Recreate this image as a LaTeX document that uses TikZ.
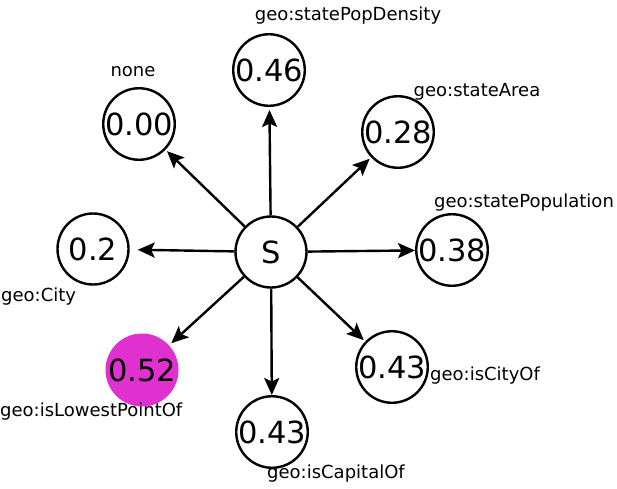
\documentclass[tikz,border=0pt]{standalone}
\usepackage{fontspec}
\setmainfont{DejaVu Sans}
\usetikzlibrary{arrows.meta}
\definecolor{hilite}{RGB}{224,48,208}
\begin{document}
\begin{tikzpicture}[x=1pt,y=-1pt,
  val/.style={circle,draw=black,line width=2.4pt,minimum size=71pt,inner sep=0pt,
    font=\fontsize{30.5}{30.5}\selectfont},
  hot/.style={val,draw=none,fill=hilite,minimum size=73pt},
  lbl/.style={inner sep=0pt,font=\fontsize{18}{18}\selectfont},
  edge/.style={line width=2.4pt,-{Stealth[length=17pt,width=15pt,inset=3.5pt]}}]
\useasboundingbox (0,0) rectangle (617,488);
% centre node
\node[val] (s) at (271,252) {S};
% surrounding value nodes
\node[val] (n46) at (269,70) {0.46};
\node[val] (n00) at (139,124) {0.00};
\node[val] (n28) at (398,132) {0.28};
\node[val] (n2) at (93,249) {0.2};
\node[val] (n38) at (452,250) {0.38};
\node[val] (n43r) at (392,367) {0.43};
\node[val] (n43b) at (272,432) {0.43};
\node[hot] (n52) at (142,370) {0.52};
% labels
\node[lbl] (l46) at (348,16) {geo:statePopDensity};
\node[lbl] (l00) at (133,72) {none};
\node[lbl] (l28) at (477,92) {geo:stateArea};
\node[lbl] (l38) at (524,203) {geo:statePopulation};
\node[lbl,anchor=west] (l2) at (1,297) {geo:City};
\node[lbl,anchor=west] (l52) at (0,412) {geo:isLowestPointOf};
\node[lbl,anchor=west] (l43r) at (430,376) {geo:isCityOf};
\node[lbl,anchor=west] (l43b) at (267,474) {geo:isCapitalOf};
% connectors
\draw[edge,shorten >=3pt] (s) -- (n46);
\draw[edge,shorten >=2pt] (s) -- (n00);
\draw[edge,shorten >=2pt] (s) -- (n28);
\draw[edge,shorten >=8pt] (s) -- (n2);
\draw[edge] (s) -- (n38);
\draw[edge,shorten >=2pt] (s) -- (n43r);
\draw[edge] (s) -- (n43b);
\draw[edge,shorten >=2pt] (s) -- (n52);
\end{tikzpicture}
\end{document}
